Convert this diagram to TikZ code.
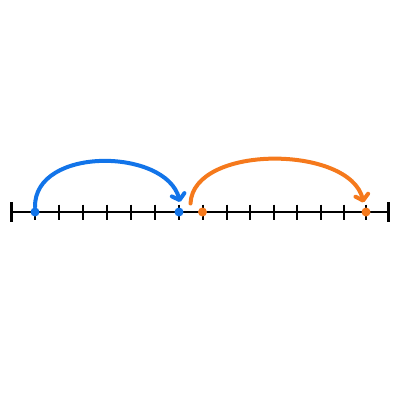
\documentclass[tikz,border=0pt]{standalone}
\usetikzlibrary{arrows.meta}
\definecolor{jblue}{RGB}{18,116,233}
\definecolor{jorange}{RGB}{245,121,28}
\tikzset{
  axisline/.style={line width=2.2pt,black},
  smalltick/.style={line width=2pt,black},
  endtick/.style={line width=2.4pt,black},
  dotnode/.style={circle,inner sep=0pt,minimum size=9pt},
  jump/.style={line width=4pt,line cap=round,-{Straight Barb[length=5.5pt,width=13pt,line cap=round,line join=round]}},
}
\begin{document}
\begin{tikzpicture}[x=1pt,y=-1pt]
\useasboundingbox (0,0) rectangle (400,400);
\coordinate (L) at (11.5,212);
\coordinate (R) at (388.5,212);
\draw[axisline] (L) -- (R);
\draw[endtick] (11.5,202) -- (11.5,222);
\draw[endtick] (388.5,202) -- (388.5,222);
\foreach \x in {35,58.8,82.5,106.7,131,155,179,202.5,226.7,250,274,297.3,320.7,343.5,366}{
  \draw[smalltick] (\x,204.5) -- (\x,219.5);
}
\node[dotnode,fill=jblue] (b1) at (35,212) {};
\node[dotnode,fill=jblue] (b2) at (179,212) {};
\node[dotnode,fill=jorange] (o1) at (202.5,212) {};
\node[dotnode,fill=jorange] (o2) at (366,212) {};
\coordinate (bs) at (35,207);
\coordinate (be) at (180,202);
\coordinate (os) at (190.5,203.5);
\coordinate (oe) at (363.5,202.5);
\draw[jump,jblue] (bs) .. controls (34,146) and (166,148) .. (be);
\draw[jump,jorange] (os) .. controls (193,144) and (350,145) .. (oe);
\end{tikzpicture}
\end{document}
